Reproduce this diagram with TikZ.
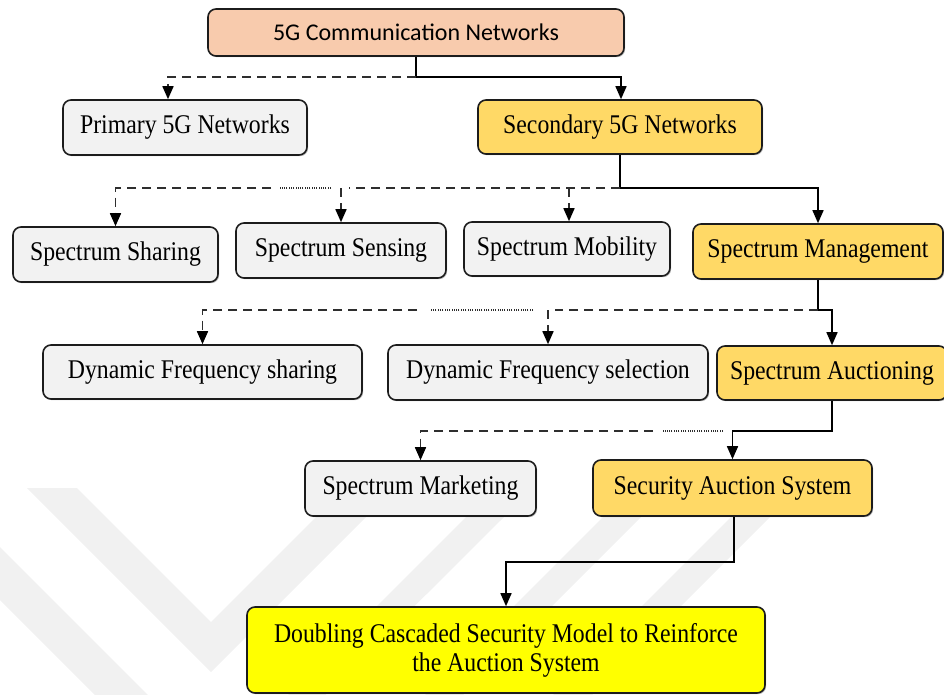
\documentclass[tikz,border=0pt]{standalone}
\usepackage{fontspec}
\newfontfamily\boxfont{Liberation Serif}[FakeStretch=0.88]
\newfontfamily\topfont{Carlito}
\usetikzlibrary{arrows.meta,shadows,calc}
\definecolor{peach}{HTML}{F8CBAD}
\definecolor{lightbox}{HTML}{F2F2F2}
\definecolor{gold}{HTML}{FFD966}
\definecolor{brightyellow}{HTML}{FFFF00}
\definecolor{wmark}{HTML}{F1F1F1}
\definecolor{bordercol}{HTML}{1C1C1C}
\definecolor{dashcol}{HTML}{2E2E2E}
\tikzset{
  box/.style={draw=bordercol, line width=1.6pt, rounded corners=8pt, inner sep=0pt,
    align=center, font=\boxfont\fontsize{27}{29}\selectfont,
    drop shadow={shadow xshift=1.2pt, shadow yshift=-1.2pt, fill=black, opacity=0.25}},
  conn/.style={draw=black, line width=1.5pt},
  dconn/.style={draw=dashcol, line width=1.6pt, dash pattern=on 9pt off 6pt},
  dotconn/.style={draw=dashcol, line width=1.4pt, dash pattern=on 1pt off 1.3pt},
  arr/.style={-{Triangle[length=13pt,width=11pt,color=black]}},
}
\begin{document}
\begin{tikzpicture}[x=1pt,y=-1pt]
\useasboundingbox (0,0) rectangle (944,695);
% watermark
\fill[wmark] (27,488) -- (77,488) -- (211,622) -- (316,517) -- (366,517) -- (211,672) -- cycle;
\fill[wmark] (0,547) -- (218,765) -- (466,517) -- (504,517) -- (210,810) -- (0,600) -- cycle;
\fill[wmark] (603,517) -- (641,517) -- (438,720) -- (400,720) -- cycle;
\fill[wmark] (731,517) -- (770,517) -- (567,720) -- (528,720) -- cycle;
% nodes
\node[box, fill=peach, minimum width=416pt, minimum height=47pt, font=\topfont\fontsize{24}{26}\selectfont] (top) at (416,32.5) {5G Communication Networks};
\node[box, fill=lightbox, minimum width=244pt, minimum height=55pt] (prim) at (185,127.5) {Primary 5G Networks};
\node[box, fill=gold, minimum width=284pt, minimum height=54pt] (sec) at (620,127) {Secondary 5G Networks};
\node[box, fill=lightbox, minimum width=205pt, minimum height=55pt] (share) at (115.5,254.5) {Spectrum Sharing};
\node[box, fill=lightbox, minimum width=210pt, minimum height=55pt] (sense) at (341,250.5) {Spectrum Sensing};
\node[box, fill=lightbox, minimum width=206pt, minimum height=54pt] (mob) at (567,249) {Spectrum Mobility};
\node[box, fill=gold, minimum width=250pt, minimum height=55pt] (mgmt) at (818,251.5) {Spectrum Management};
\node[box, fill=lightbox, minimum width=319pt, minimum height=54pt] (dfsh) at (202.5,372) {Dynamic Frequency sharing};
\node[box, fill=lightbox, minimum width=320pt, minimum height=55pt] (dfse) at (548,372.5) {Dynamic Frequency selection};
\node[box, fill=gold, minimum width=230pt, minimum height=54pt] (auct) at (832,373) {Spectrum Auctioning};
\node[box, fill=lightbox, minimum width=231pt, minimum height=55pt] (mkt) at (420.5,488.5) {Spectrum Marketing};
\node[box, fill=gold, minimum width=279pt, minimum height=56pt] (sas) at (732.5,488) {Security Auction System};
\node[box, fill=brightyellow, minimum width=518pt, minimum height=86pt] (final) at (506,650) {Doubling Cascaded Security Model to Reinforce\\the Auction System};
% junction points
\coordinate (j1) at (416,77);
\coordinate (j2) at (620,188);
\coordinate (j3) at (818,310);
\coordinate (j4) at (832,431);
\coordinate (j5) at (734,562);
\coordinate (d2a) at (349,188);
\coordinate (d2b) at (331,188);
\coordinate (d2c) at (280,188);
\coordinate (d2d) at (271,188);
\coordinate (d3a) at (555,310);
\coordinate (d3b) at (533,310);
\coordinate (d3c) at (430,310);
\coordinate (d3d) at (417,310);
\coordinate (d4a) at (723,431);
\coordinate (d4b) at (663,431);
\coordinate (d4c) at (653,431);
% level 1
\draw[conn] (top.south) -- (j1);
\draw[conn,arr] (j1) -| ([xshift=1pt]sec.north);
\draw[dconn,arr] (j1) -| ([xshift=-17pt]prim.north);
% level 2
\draw[conn] (sec.south) -- (j2);
\draw[conn,arr] (j2) -| (mgmt.north);
\draw[dconn] (j2) -- (d2a);
\draw[dconn,arr] (sense.north |- j2) -- (sense.north);
\draw[dconn,arr] ([xshift=2pt]mob.north |- j2) -- ([xshift=2pt]mob.north);
\draw[dotconn] (d2b) -- (d2c);
\draw[dconn,arr] (d2d) -| (share.north);
% level 3
\draw[conn,arr] (mgmt.south) -- (j3) -| (auct.north);
\draw[dconn] (j3) -- (d3a);
\draw[dconn,arr] (dfse.north |- j3) -- (dfse.north);
\draw[dotconn] (d3b) -- (d3c);
\draw[dconn,arr] (d3d) -| (dfsh.north);
% level 4
\draw[conn,arr] (auct.south) -- (j4) -| (sas.north);
\draw[dotconn] (d4a) -- (d4b);
\draw[dconn,arr] (d4c) -| (mkt.north);
% level 5
\draw[conn,arr] ([xshift=1.5pt]sas.south) -- (j5) -| (final.north);
\end{tikzpicture}
\end{document}
